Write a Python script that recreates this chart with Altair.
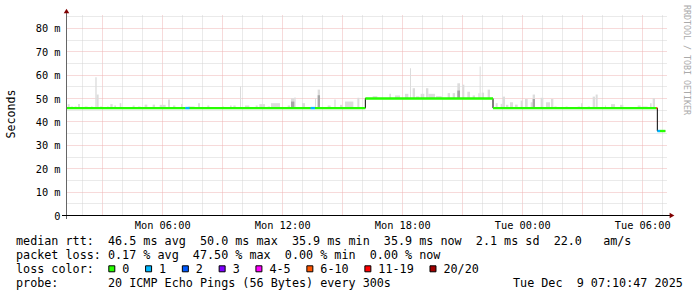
import altair as alt
import numpy as np
import pandas as pd

MONO = "DejaVu Sans Mono"

# ---------------- data ----------------
START_MS = int(pd.Timestamp("2025-12-08T01:14:24Z").value // 10**6)
SPAN_MIN = 1800
END_MS = START_MS + SPAN_MIN * 60000

# median rtt segments (minutes from graph start, ms, loss class)
MED_START = [0, 355, 368, 731, 744, 895, 1278, 1768, 1771, 1779]
MED_END = [355, 368, 731, 744, 895, 1278, 1768, 1771, 1779, 1795]
MED_VALUE = [45.7, 45.7, 45.7, 45.7, 45.7, 49.8, 45.7, 45.7, 35.9, 35.9]
MED_LOSS = ["0", "1", "0", "1", "0", "0", "0", "6-10", "1", "0"]

# smoke (ping spread above the median): start / end minute, top value (ms)
SMOKE_START = [2, 11, 23, 33, 53, 72, 85, 89, 99, 120, 130, 142, 158, 197, 213, 233, 257, 278, 303, 318,
               342, 364, 393, 421, 466, 489, 499, 519, 534, 566, 577, 602, 612, 662, 672, 682, 705, 744, 752, 782,
               802, 819, 834, 871, 897, 917, 967, 984, 1014, 1029, 1037, 1047, 1061, 1077, 1084, 1107, 1142, 1157,
               1171, 1186, 1201, 1217, 1234, 1238, 1244, 1262, 1286, 1301, 1307, 1317, 1329, 1344, 1361, 1374,
               1391, 1397, 1421, 1437, 1452, 1462, 1496, 1532, 1542, 1562, 1577, 1586, 1614, 1632, 1659, 1712,
               1724, 1749, 1757]
SMOKE_END = [8, 18, 29, 39, 62, 77, 89, 95, 105, 125, 137, 147, 163, 203, 221, 241, 264, 296, 309, 325,
             347, 383, 399, 427, 471, 494, 506, 522, 547, 572, 594, 609, 639, 669, 682, 686, 714, 747, 759, 791,
             806, 826, 859, 877, 904, 931, 972, 999, 1024, 1032, 1044, 1057, 1072, 1084, 1104, 1124, 1149, 1164,
             1179, 1192, 1209, 1224, 1238, 1241, 1251, 1269, 1292, 1307, 1314, 1324, 1338, 1352, 1367, 1382,
             1397, 1404, 1429, 1449, 1459, 1469, 1502, 1540, 1547, 1569, 1584, 1592, 1617, 1644, 1669, 1721,
             1742, 1754, 1764]
SMOKE_TOP = [47.4, 46.4, 46.4, 47.4, 46.4, 46.4, 58.9, 51.5, 46.4, 46.4, 47.4, 46.8, 47.8, 46.8, 46.4, 47.2,
             47.2, 47.1, 49.4, 46.8, 47.5, 46.4, 47.8, 46.8, 46.4, 46.8, 46.8, 54.9, 46.8, 46.8, 47.4, 46.4,
             47.8, 46.8, 49.9, 50.2, 47.8, 49.9, 53.6, 46.8, 49.4, 47.1, 48.5, 50.1, 50.1, 50.8, 51.8, 51.1,
             51.8, 62.7, 54.2, 50.7, 51.8, 54.2, 51.8, 50.8, 52.1, 52.1, 56.3, 55.7, 52.7, 51.1, 52.1, 63.5,
             52.3, 53.6, 47.8, 47.5, 50.6, 47.1, 48.2, 47.2, 48.9, 49.6, 48.2, 51.5, 50.1, 48.2, 49.6, 46.4,
             46.4, 46.4, 47.8, 46.4, 50.6, 51.5, 46.8, 47.4, 47.1, 46.8, 46.4, 47.8, 49.9]

# darker (denser) part of the smoke
DARK_START = [672, 752, 1171, 1397]
DARK_END = [682, 759, 1179, 1404]
DARK_TOP = [48.5, 51.2, 53.2, 49.6]

LOSS_CLASSES = ["0", "1", "2", "3", "4-5", "6-10", "11-19", "20/20"]
LOSS_COLORS = ["#26ff00", "#00b8ff", "#0059ff", "#7e00ff", "#ff00ff", "#ff5500", "#ff0000", "#a10000"]

LEGEND_LINES = [
    "median rtt:  46.5 ms avg  50.0 ms max  35.9 ms min  35.9 ms now  2.1 ms sd  22.0   am/s",
    "packet loss: 0.17 % avg  47.50 % max  0.00 % min  0.00 % now",
    "loss color:",
    "probe:       20 ICMP Echo Pings (56 Bytes) every 300s",
]
STAMP = "Tue Dec  9 07:10:47 2025"
WATERMARK = "RRDTOOL / TOBI OETIKER"

Y_TICKS = list(range(0, 90, 5))


# ---------------- tables ----------------
def ms(m):
    return START_MS + np.asarray(m, dtype=float) * 60000


def median_at(m):
    for s, e, v in zip(MED_START, MED_END, MED_VALUE):
        if s <= m < e:
            return v
    return MED_VALUE[-1]


smoke_df = pd.DataFrame({
    "t0": ms(SMOKE_START), "t1": ms(SMOKE_END), "top": SMOKE_TOP,
    "base": [median_at((a + b) / 2) for a, b in zip(SMOKE_START, SMOKE_END)],
})
dark_df = pd.DataFrame({
    "t0": ms(DARK_START), "t1": ms(DARK_END), "top": DARK_TOP,
    "base": [median_at((a + b) / 2) for a, b in zip(DARK_START, DARK_END)],
})
med_df = pd.DataFrame({"t0": ms(MED_START), "t1": ms(MED_END), "v": MED_VALUE, "loss": MED_LOSS})
step_df = pd.DataFrame({"t": list(ms(MED_START)) + [ms(MED_END[-1])],
                        "v": MED_VALUE + [MED_VALUE[-1]]})

first_hour = pd.Timestamp("2025-12-08T02:00:00Z")
hour_ticks = [int(t.value // 10**6) for t in pd.date_range(first_hour, periods=30, freq="h")
              if t.value // 10**6 < END_MS]

MINOR = "#d4d4d4"
MAJOR = "#eeb4b4"

x_scale = alt.Scale(type="utc", domain=[START_MS, END_MS])
x_axis = alt.Axis(
    values=hour_ticks,
    labelExpr="utchours(datum.value) % 6 === 0 ? utcFormat(datum.value, '%a %H:%M') : ''",
    gridColor={"condition": {"test": "utchours(datum.value) % 3 === 0", "value": MAJOR}, "value": MINOR},
    gridDash=[1, 1], gridWidth=1, gridOpacity=1,
    ticks=False, domain=False, labelOverlap=False, labelFlush=False,
    labelFont=MONO, labelFontSize=10.3, labelColor="#000000",
    labelBaseline="alphabetic", labelPadding=13, title=None,
)
y_scale = alt.Scale(domain=[0, 85.5], nice=False, zero=False)
y_axis = alt.Axis(
    values=Y_TICKS,
    labelExpr="datum.value % 10 === 0 ? (datum.value === 0 ? '0\u00a0\u00a0' : datum.value + '\u00a0m') : ''",
    gridColor={"condition": {"test": "datum.value % 10 === 0", "value": MAJOR}, "value": MINOR},
    gridDash=[1, 1], gridWidth=1, gridOpacity=1,
    ticks=False, domain=False, labelOverlap=False, labelFlush=False,
    labelFont=MONO, labelFontSize=10.3, labelColor="#000000", labelPadding=7, labelOffset=1,
    title="Seconds", titleFont=MONO, titleFontSize=11.6, titleFontWeight="normal", titleColor="#000000",
    titleX=-56, titleY=98.5, titleAngle=270, titleBaseline="middle", titleAlign="center",
)


def X(field):
    return alt.X(f"{field}:T", scale=x_scale, axis=x_axis)


def Y(field):
    return alt.Y(f"{field}:Q", scale=y_scale, axis=y_axis)


one = pd.DataFrame({"a": [0]})

smoke = alt.Chart(smoke_df).mark_rect(color="#dcdcdc").encode(x=X("t0"), x2="t1", y=Y("top"), y2="base")
dark = alt.Chart(dark_df).mark_rect(color="#a6a6a6").encode(x=X("t0"), x2="t1", y=Y("top"), y2="base")
step = alt.Chart(step_df).mark_line(interpolate="step-after", color="#000000", strokeWidth=1).encode(
    x=X("t"), y=Y("v"))
med = alt.Chart(med_df).mark_rule(strokeWidth=2.4).encode(
    x=X("t0"), x2="t1", y=Y("v"),
    color=alt.Color("loss:N", scale=alt.Scale(domain=LOSS_CLASSES, range=LOSS_COLORS), legend=None),
)

yline = alt.Chart(one).mark_rule(color="#666666", strokeWidth=1).encode(
    x=alt.value(-0.5), y=alt.value(-5), y2=alt.value(204))
xline = alt.Chart(one).mark_rule(color="#000000", strokeWidth=1).encode(
    x=alt.value(-5), x2=alt.value(603), y=alt.value(200.5))
arrow_up = alt.Chart(one).mark_point(shape="triangle-up", filled=True, size=30, color="#800000",
                                     opacity=1).encode(x=alt.value(-0.5), y=alt.value(-4))
arrow_right = alt.Chart(one).mark_point(shape="triangle-right", filled=True, size=30, color="#800000",
                                        opacity=1).encode(x=alt.value(605), y=alt.value(200.5))

layers = [smoke, dark, step, med, yline, xline, arrow_up, arrow_right]

NB = "\u00a0"
line_y = [229.9, 243.9, 257.6, 271.9]
for txt, yy in zip(LEGEND_LINES, line_y):
    layers.append(alt.Chart(one).mark_text(
        text=txt.replace(" ", NB), align="left", baseline="alphabetic", font=MONO,
        fontSize=11.76, color="#000000").encode(x=alt.value(-51), y=alt.value(yy)))

layers.append(alt.Chart(one).mark_text(
    text=STAMP.replace(" ", NB), align="left", baseline="alphabetic", font=MONO,
    fontSize=11.76, color="#000000").encode(x=alt.value(446), y=alt.value(line_y[3])))

layers.append(alt.Chart(one).mark_text(
    text=WATERMARK.replace(" ", NB), align="left", baseline="middle", angle=90, font=MONO,
    fontSize=8.3, color="#aaaaaa").encode(x=alt.value(618.5), y=alt.value(-10)))

# loss colour legend squares and labels
CHAR_W = 11.76 * 0.602
sq_left = 108.3 - 67
for lab, col in zip(LOSS_CLASSES, LOSS_COLORS):
    layers.append(alt.Chart(one).mark_rect(fill=col, stroke="#000000", strokeWidth=1).encode(
        x=alt.value(sq_left + 0.5), x2=alt.value(sq_left + 6.5),
        y=alt.value(250.8), y2=alt.value(256.8)))
    layers.append(alt.Chart(one).mark_text(
        text=lab, align="left", baseline="alphabetic", font=MONO, fontSize=11.76,
        color="#000000").encode(x=alt.value(sq_left + 14), y=alt.value(line_y[2])))
    sq_left += 29.7 + CHAR_W * len(lab)

chart = alt.layer(*layers).properties(
    width=600, height=200,
    autosize=alt.AutoSizeParams(type="none"),
    padding={"left": 67, "top": 15, "right": 30, "bottom": 82},
    background="#ffffff",
).configure_view(stroke=None)

chart.save("out.html", embed_options={"renderer": "svg", "actions": False})
